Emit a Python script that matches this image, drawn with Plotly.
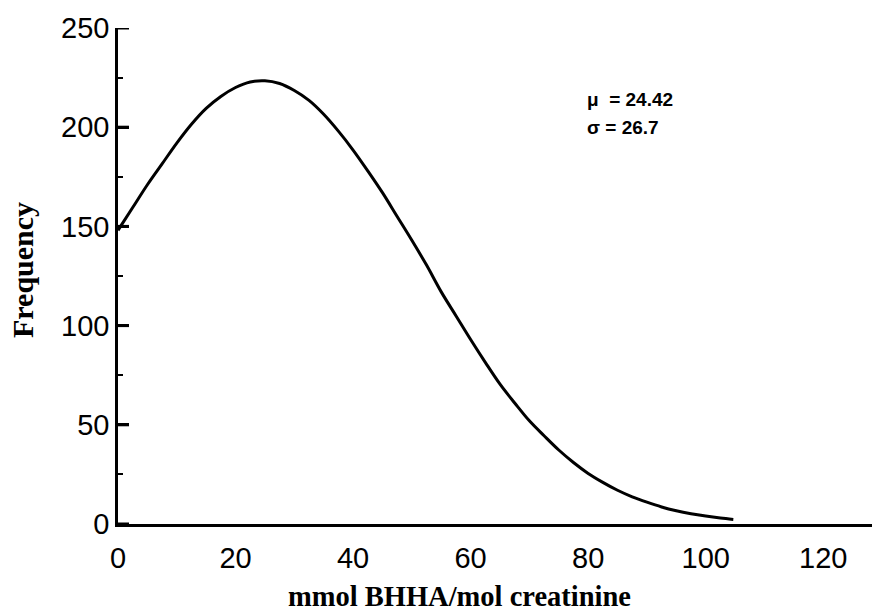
import plotly.graph_objects as go

# Values
x_vals = [0, 2.5, 5, 7.5, 10, 12.5, 15, 17.5, 20, 22.5, 25, 27.5, 30, 32.5, 35, 37.5, 40, 42.5, 45,
          47.5, 50, 52.5, 55, 57.5, 60, 62.5, 65, 67.5, 70, 72.5, 75, 77.5, 80, 82.5, 85, 87.5, 90,
          92.5, 95, 97.5, 100, 102.5, 104.7]
freq = [148, 159.5, 171, 181.5, 192, 201.5, 209.5, 215.5, 220, 222.8, 223.4, 222, 218.5, 213.5, 206.5,
        198, 188.5, 178, 167, 155, 143, 130.5, 117, 105, 93, 81.5, 70.5, 61, 52, 44.5, 37.3, 31,
        25.5, 21, 17, 13.7, 11, 8.6, 6.7, 5.2, 4, 3, 2.3]

y_major_ticks = [0, 50, 100, 150, 200, 250]
y_minor_step = 25
x_ticks = [0, 20, 40, 60, 80, 100, 120]
stats_lines = ["\u03bc  = 24.42", "\u03c3 = 26.7"]
x_title = "mmol BHHA/mol creatinine"
y_title = "Frequency"

fig = go.Figure()
fig.add_trace(go.Scatter(x=x_vals, y=freq, mode="lines",
                         line=dict(color="black", width=3, shape="spline", smoothing=1),
                         showlegend=False, hoverinfo="skip"))

W, H = 872, 613
ml, mr, mt, mb = 118, 0, 28, 89
pw = W - ml - mr
ph = H - mt - mb

fig.update_layout(
    width=W, height=H,
    margin=dict(l=ml, r=mr, t=mt, b=mb),
    paper_bgcolor="white", plot_bgcolor="white",
    font=dict(family="Liberation Sans, Arial", color="black"),
    xaxis=dict(range=[0, 128.3], showgrid=False, zeroline=False,
               showline=True, linecolor="black", linewidth=2.5,
               tickvals=x_ticks, ticks="", ticklabelstandoff=6,
               tickfont=dict(size=29, family="Liberation Sans, Arial", color="black")),
    yaxis=dict(range=[0, 250], showgrid=False, zeroline=False,
               showline=True, linecolor="black", linewidth=2.5,
               tickvals=y_major_ticks, ticksuffix="\u2002\u2009\u2009",
               ticks="inside", ticklen=11, tickwidth=3, tickcolor="black",
               minor=dict(ticks="inside", ticklen=5, tickwidth=2, tickcolor="black",
                          dtick=y_minor_step, showgrid=False),
               tickfont=dict(size=29, family="Liberation Sans, Arial", color="black")),
)

# major tick marks on the y axis (drawn through the y scale)
for v in y_major_ticks:
    fig.add_shape(type="line", xref="paper", yref="y", x0=0, x1=11 / pw, y0=v, y1=v,
                  line=dict(color="black", width=3), layer="above")

def px_x(p):
    return (p - ml) / pw
def px_y(p):
    return (H - mb - p) / ph

for i, txt in enumerate(stats_lines):
    fig.add_annotation(x=px_x(585), y=px_y(99 + 28 * i), xref="paper", yref="paper",
                       text=txt, showarrow=False, xanchor="left", yanchor="middle",
                       font=dict(size=19, family="Liberation Sans, Arial", color="black", weight="bold"))

fig.add_annotation(x=px_x(459), y=px_y(596), xref="paper", yref="paper", text=x_title,
                   showarrow=False, xanchor="center", yanchor="middle",
                   font=dict(size=28.5, family="Liberation Serif, Times New Roman", color="black", weight="bold"))
fig.add_annotation(x=px_x(22), y=px_y(270), xref="paper", yref="paper", text=y_title,
                   showarrow=False, xanchor="center", yanchor="middle", textangle=-90,
                   font=dict(size=30, family="Liberation Serif, Times New Roman", color="black", weight="bold"))

fig.write_html("out.html")
